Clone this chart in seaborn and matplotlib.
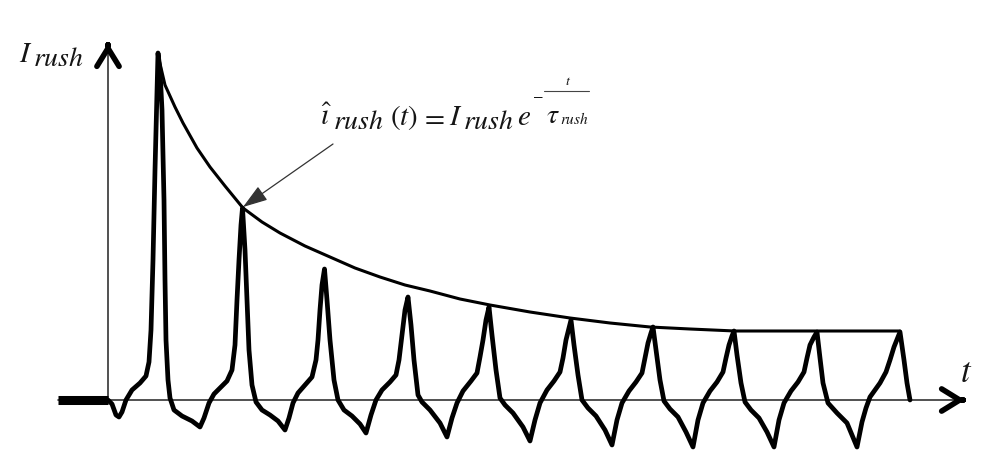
import matplotlib
matplotlib.use("Agg")
import matplotlib.pyplot as plt
from matplotlib.transforms import offset_copy
import seaborn as sns

# Inrush current sketch (t right of the I axis, i above the t axis)
lead_t = [-49, 1]
lead_i = [0, 0]

wave_t = [1, 5, 9, 12, 15, 19, 25, 33, 39, 42, 44, 46, 48, 50, 51,
          53, 55, 57, 58, 59, 61, 63, 67, 75, 85, 93,
          97, 102, 107, 113, 120, 125, 128, 130, 132, 134, 135.5,
          138, 140, 142, 145, 149, 155, 163, 171, 178,
          182, 186, 191, 198, 205, 209, 211, 213, 215, 217.5,
          220, 223, 227, 231, 237, 245, 253, 259,
          264, 269, 275, 283, 289, 292, 295, 298, 301,
          304, 307, 311, 315, 323, 333, 340,
          345, 350, 356, 364, 370, 373, 376, 379, 382,
          385, 389, 393, 398, 406, 416, 423,
          428, 433, 440, 447, 453, 456, 459, 462, 464,
          467, 471, 475, 481, 489, 498, 505,
          510, 515, 522, 529, 535, 538, 541, 544, 546,
          549, 553, 557, 563, 571, 579, 586,
          591, 596, 603, 610, 616, 619, 622, 625, 627,
          630, 634, 638, 644, 652, 660, 667,
          672, 677, 684, 691, 697, 700, 703, 707, 710,
          713, 716, 721, 730, 740, 750,
          755, 759, 763, 773, 779, 783, 787, 791, 793,
          797, 800, 803]
wave_i = [0, -4, -15, -17, -12, 0, 10, 17, 24, 38, 70, 140, 230, 310, 347,
          330, 290, 200, 120, 60, 20, 2, -10, -16, -21, -27,
          -18, -3, 6, 12, 19, 30, 55, 100, 140, 175, 192,
          150, 100, 50, 15, -2, -10, -15, -21, -30,
          -18, -3, 7, 15, 23, 40, 60, 90, 115, 131,
          100, 60, 20, 0, -10, -16, -24, -33,
          -15, 0, 10, 18, 25, 40, 65, 90, 103,
          75, 40, 5, -2, -10, -23, -37,
          -18, -3, 9, 19, 27, 43, 60, 80, 93,
          65, 30, 2, -5, -13, -27, -41,
          -20, -3, 10, 19, 28, 42, 60, 72, 80,
          55, 25, 0, -8, -16, -30, -45,
          -20, -3, 9, 18, 27, 42, 57, 67, 73,
          50, 20, -1, -9, -17, -32, -47,
          -20, -3, 9, 18, 28, 42, 55, 64, 69,
          45, 17, -2, -10, -18, -32, -47,
          -20, -3, 9, 18, 28, 42, 55, 63, 68,
          42, 17, -3, -13, -23, -47,
          -22, -8, 3, 17, 28, 40, 53, 63, 68,
          40, 17, 0]

env_t = [51, 58, 68, 76, 90, 103, 118, 136, 155, 173, 198, 223, 248, 273,
         298, 323, 353, 383, 423, 463, 503, 543, 583, 628, 673, 753, 793]
env_i = [345, 315, 293, 277, 252, 233, 214, 192, 178, 167, 154, 143, 132, 123,
         115, 109, 101, 95, 88, 82, 77, 73, 71, 69, 69, 69, 69]

T_AXIS_END = 858
I_AXIS_END = 357
ARROW_TIP = (136, 193)
ARROW_TAIL = (226, 256)
FORMULA_POS = (213, 275)
YLABEL_POS = (-88, 338)
XLABEL_POS = (853, 18)

sns.set_theme(style="white")
plt.rcParams["mathtext.fontset"] = "stix"

fig = plt.figure(figsize=(10, 4.62), dpi=100)
ax = fig.add_axes([0, 0, 1, 1])
ax.set_xlim(-107, 893)
ax.set_ylim(-62, 400)
ax.axis("off")
renderer = fig.canvas.get_renderer()
TXT = "#151515"


def put(pos, s, dx, dy, size):
    # text piece at a pixel offset from a data anchor, returns its width in pixels
    tr = offset_copy(ax.transData, fig=fig, x=dx, y=dy, units="dots")
    t = ax.text(pos[0], pos[1], s, transform=tr, fontsize=size,
                ha="left", va="baseline", color=TXT)
    return t.get_window_extent(renderer).width


def chain(pos, pieces):
    # pieces: (text, gap before, vertical offset, size)
    x = 0
    for s, gap, dy, size in pieces:
        x += gap
        x += put(pos, s, x, dy, size)
    return x


# axes of the sketch
ax.plot([lead_t[0], T_AXIS_END], [0, 0], color="#333333", lw=1.2, zorder=1)
ax.plot([lead_t[1], lead_t[1]], [0, I_AXIS_END], color="#333333", lw=1.2, zorder=1)
head = dict(arrowstyle="->,head_length=0.65,head_width=0.4", lw=4, color="black",
            mutation_scale=20, shrinkA=0, shrinkB=0)
ax.annotate("", xy=(T_AXIS_END, 0), xytext=(T_AXIS_END - 2, 0), arrowprops=head)
ax.annotate("", xy=(lead_t[1], I_AXIS_END), xytext=(lead_t[1], I_AXIS_END - 2), arrowprops=head)

# waveform and envelope
sns.lineplot(x=lead_t, y=lead_i, ax=ax, color="black", lw=6.5,
             estimator=None, sort=False, solid_capstyle="butt")
sns.lineplot(x=wave_t, y=wave_i, ax=ax, color="black", lw=3.4,
             estimator=None, sort=False)
sns.lineplot(x=env_t, y=env_i, ax=ax, color="black", lw=2.2,
             estimator=None, sort=False)

# formula with pointer
ax.annotate("", xy=ARROW_TIP, xytext=ARROW_TAIL,
            arrowprops=dict(arrowstyle="-|>,head_length=0.9,head_width=0.3",
                            lw=0.9, color="#333333", mutation_scale=17,
                            shrinkA=0, shrinkB=0))
w = chain(FORMULA_POS, [
    (r"$\hat{\imath}$", 0, 0, 21),
    (r"$rush$", 0.5, -4, 20),
    (r"$(t)$", 7, 0, 21),
    (r"$=$", 2, 0, 21),
    (r"$I$", 4, 0, 21),
    (r"$rush$", 0.5, -4, 20),
    (r"$e$", 3, 0, 21),
])
put(FORMULA_POS, r"$-$", w + 1, 26, 11)
bar_x0 = w + 15
wt = put(FORMULA_POS, r"$\tau$", bar_x0, 2, 20)
wr = put(FORMULA_POS, r"$rush$", bar_x0 + wt + 0.5, 1, 11)
bar_w = wt + wr + 3
tr_bar = offset_copy(ax.transData, fig=fig, x=0, y=34, units="dots")
bar_t0 = FORMULA_POS[0] + bar_x0 - 2
ax.plot([bar_t0, bar_t0 + bar_w], [FORMULA_POS[1]] * 2, transform=tr_bar,
        color="#444444", lw=0.8)
put(FORMULA_POS, r"$t$", bar_x0 + bar_w / 2 - 4, 40, 10)

chain(YLABEL_POS, [
    (r"$I$", 0, 0, 21),
    (r"$rush$", 0.5, -4, 20),
])
put(XLABEL_POS, r"$t$", 0, 0, 25)

fig.savefig("out.png", dpi=100)
